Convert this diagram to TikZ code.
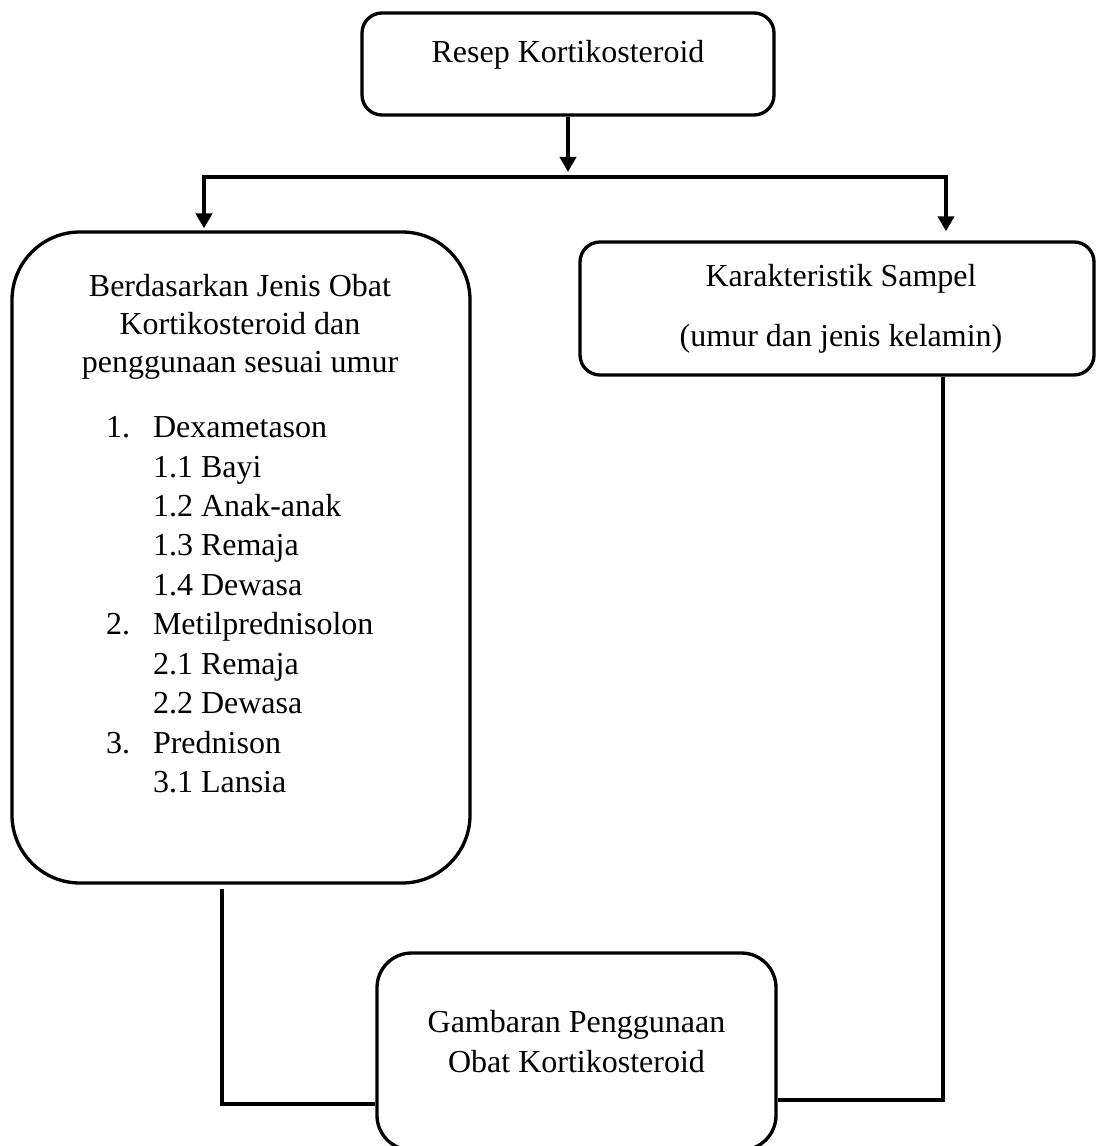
\documentclass[tikz,border=0pt]{standalone}
\usepackage{fontspec}
\setmainfont{Liberation Serif}
\usetikzlibrary{matrix,arrows.meta}

\tikzset{
  box/.style={draw, line width=1.25pt, inner sep=0pt},
  boxsize/.style 2 args={minimum width=#1*0.375pt, minimum height=#2*0.375pt},
  link/.style={line width=1.7pt},
  tip/.style={-{Triangle[width=6pt,length=5.6pt]}},
  twotips/.style={{Triangle[width=6pt,length=5.6pt]}-{Triangle[width=6pt,length=5.6pt]}},
}

\begin{document}
\begin{tikzpicture}[x=0.375pt, y=-0.375pt, font=\fontsize{12pt}{14.8pt}\selectfont]
  \useasboundingbox (0,0) rectangle (1098,1146);
  % boxes
  \node[box, boxsize={412}{102}, rounded corners=7.5pt] (resep) at (568,64) {};
  \node[box, boxsize={458}{651}, rounded corners=25.5pt] (jenis) at (241,557.5) {};
  \node[box, boxsize={514}{133}, rounded corners=7.5pt] (sampel) at (837,308.5) {};
  \node[box, boxsize={399}{197}, rounded corners=13pt] (gambaran) at (576.5,1051.5) {};
  % texts (base = last line)
  \node[anchor=base] (resep-t) at (568,63) {Resep Kortikosteroid};
  \node[anchor=base, align=center, font=\fontsize{12pt}{14.25pt}\selectfont]
    (jenis-t) at (240,373) {Berdasarkan Jenis Obat\\Kortikosteroid dan\\penggunaan sesuai umur};
  \matrix (obat) [matrix of nodes, anchor=north west, inner sep=0pt,
    column sep=8.6pt, row sep=0pt,
    nodes={anchor=base west, inner sep=0pt, text height=11pt, text depth=3.8pt}]
    at (105,407.7)
  {
    1. & Dexametason \\
       & 1.1 Bayi \\
       & 1.2 Anak-anak \\
       & 1.3 Remaja \\
       & 1.4 Dewasa \\
    2. & Metilprednisolon \\
       & 2.1 Remaja \\
       & 2.2 Dewasa \\
    3. & Prednison \\
       & 3.1 Lansia \\
  };
  \node[anchor=base, align=center, font=\fontsize{12pt}{22.5pt}\selectfont]
    (sampel-t) at (841,347) {Karakteristik Sampel\\(umur dan jenis kelamin)};
  \node[anchor=base, align=center, font=\fontsize{12pt}{15pt}\selectfont]
    (gambaran-t) at (576.5,1072) {Gambaran Penggunaan\\Obat Kortikosteroid};
  % connectors
  \coordinate (fork) at (568,177);
  \coordinate (lfork) at (204,177);
  \coordinate (rfork) at (946,177);
  \coordinate (ljoin) at (222,1104);
  \coordinate (rjoin) at (943,1100);
  \draw[link, tip, shorten >=1.9pt] (resep.south) -- (fork);
  \draw[link, twotips, shorten <=0.75pt, shorten >=3.4pt]
    (lfork |- jenis.north) -- (lfork) -- (rfork) -- (rfork |- sampel.north);
  \draw[link, shorten <=1.5pt] (ljoin |- jenis.south) -- (ljoin) -- (ljoin -| gambaran.west);
  \draw[link] (rjoin |- sampel.south) -- (rjoin) -- (rjoin -| gambaran.east);
\end{tikzpicture}
\end{document}
